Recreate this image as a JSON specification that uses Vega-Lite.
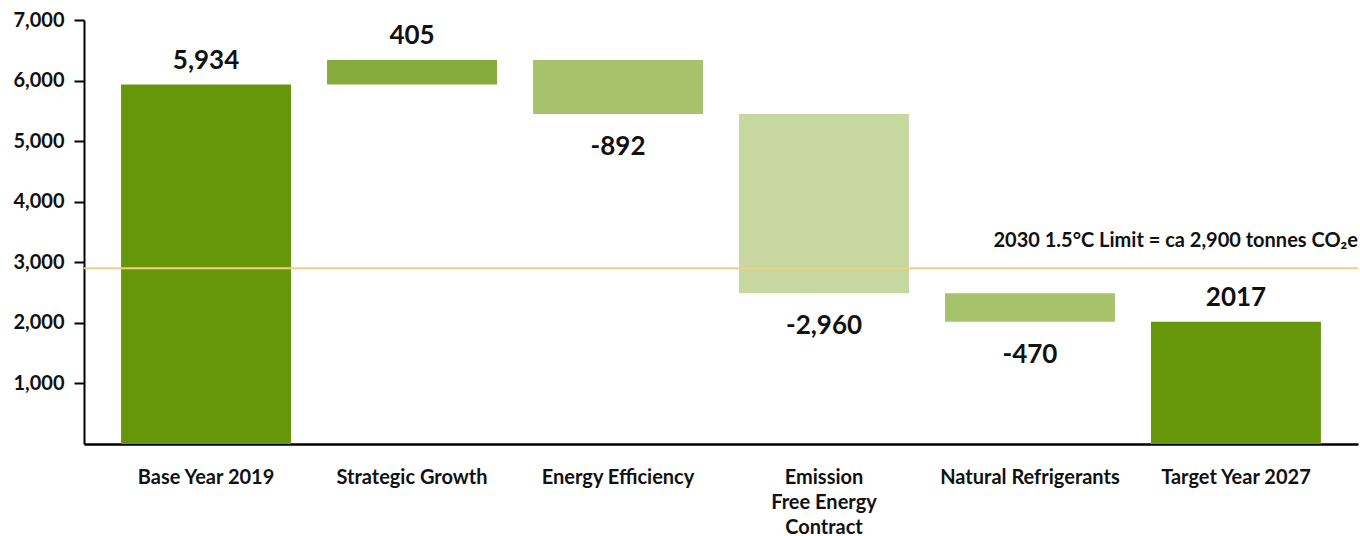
{
  "$schema": "https://vega.github.io/schema/vega-lite/v6.json",
  "width": 1274,
  "height": 424,
  "autosize": {"type": "none"},
  "padding": {"left": 84, "top": 20, "right": 2, "bottom": 92},
  "background": "white",
  "config": {
    "view": {"stroke": null},
    "font": "Lato",
    "axis": {"grid": false}
  },
  "datasets": {
    "steps": [
      {"category": "Base Year 2019", "start": 0, "end": 5934, "label": "5,934", "dir": "up"},
      {"category": "Strategic Growth", "start": 5934, "end": 6339, "label": "405", "dir": "up"},
      {"category": "Energy Efficiency", "start": 6339, "end": 5447, "label": "-892", "dir": "down"},
      {"category": "Emission|Free Energy|Contract", "start": 5447, "end": 2487, "label": "-2,960", "dir": "down"},
      {"category": "Natural Refrigerants", "start": 2487, "end": 2017, "label": "-470", "dir": "down"},
      {"category": "Target Year 2027", "start": 0, "end": 2017, "label": "2017", "dir": "up"}
    ],
    "limit": [
      {"category": "Target Year 2027", "value": 2900, "text": "2030 1.5°C Limit = ca 2,900 tonnes CO₂e"}
    ]
  },
  "layer": [
    {
      "data": {"name": "steps"},
      "mark": {"type": "bar"},
      "encoding": {
        "x": {
          "field": "category", "type": "nominal", "sort": null,
          "scale": {"paddingInner": 0.175, "paddingOuter": 0.18},
          "axis": {
            "title": null, "labelAngle": 0, "ticks": false,
            "domainColor": "#000000", "domainWidth": 2.5,
            "labelExpr": "split(datum.label, '|')",
            "labelFont": "Lato", "labelFontWeight": "bold", "labelFontSize": 20,
            "labelColor": "#111111", "labelPadding": 23, "labelLineHeight": 25,
            "labelBaseline": "top"
          }
        },
        "y": {
          "field": "start", "type": "quantitative",
          "scale": {"domain": [0, 7000], "nice": false},
          "axis": {
            "title": null, "values": [1000, 2000, 3000, 4000, 5000, 6000, 7000],
            "format": ",d", "domainColor": "#000000", "domainWidth": 2,
            "tickColor": "#000000", "tickWidth": 2, "tickSize": 10,
            "labelFont": "Lato", "labelFontWeight": "bold", "labelFontSize": 20,
            "labelColor": "#111111", "labelPadding": 10
          }
        },
        "y2": {"field": "end"},
        "color": {
          "field": "category", "type": "nominal", "legend": null,
          "scale": {
            "domain": ["Base Year 2019", "Strategic Growth", "Energy Efficiency", "Emission|Free Energy|Contract", "Natural Refrigerants", "Target Year 2027"],
            "range": ["#66960A", "#86AB3C", "#A6C36C", "#C6D79F", "#A6C36C", "#66960A"]
          }
        }
      }
    },
    {
      "data": {"name": "steps"},
      "transform": [{"filter": "datum.dir == 'up'"}],
      "mark": {"type": "text", "baseline": "alphabetic", "dy": -16, "font": "Lato", "fontWeight": "bold", "fontSize": 26, "color": "#111111"},
      "encoding": {
        "x": {"field": "category", "type": "nominal", "sort": null},
        "y": {"field": "end", "type": "quantitative"},
        "text": {"field": "label"}
      }
    },
    {
      "data": {"name": "steps"},
      "transform": [{"filter": "datum.dir == 'down'"}],
      "mark": {"type": "text", "baseline": "top", "dy": 20, "font": "Lato", "fontWeight": "bold", "fontSize": 26, "color": "#111111"},
      "encoding": {
        "x": {"field": "category", "type": "nominal", "sort": null},
        "y": {"field": "end", "type": "quantitative"},
        "text": {"field": "label"}
      }
    },
    {
      "data": {"name": "limit"},
      "mark": {"type": "rule", "color": "#F5CD85", "strokeWidth": 2},
      "encoding": {"y": {"field": "value", "type": "quantitative"}}
    },
    {
      "data": {"name": "limit"},
      "mark": {"type": "text", "align": "right", "baseline": "alphabetic", "dx": 37, "dy": -21, "font": "Lato", "fontWeight": "bold", "fontSize": 20, "color": "#111111"},
      "encoding": {
        "x": {"field": "category", "type": "nominal", "sort": null, "bandPosition": 1},
        "y": {"field": "value", "type": "quantitative"},
        "text": {"field": "text"}
      }
    }
  ]
}
